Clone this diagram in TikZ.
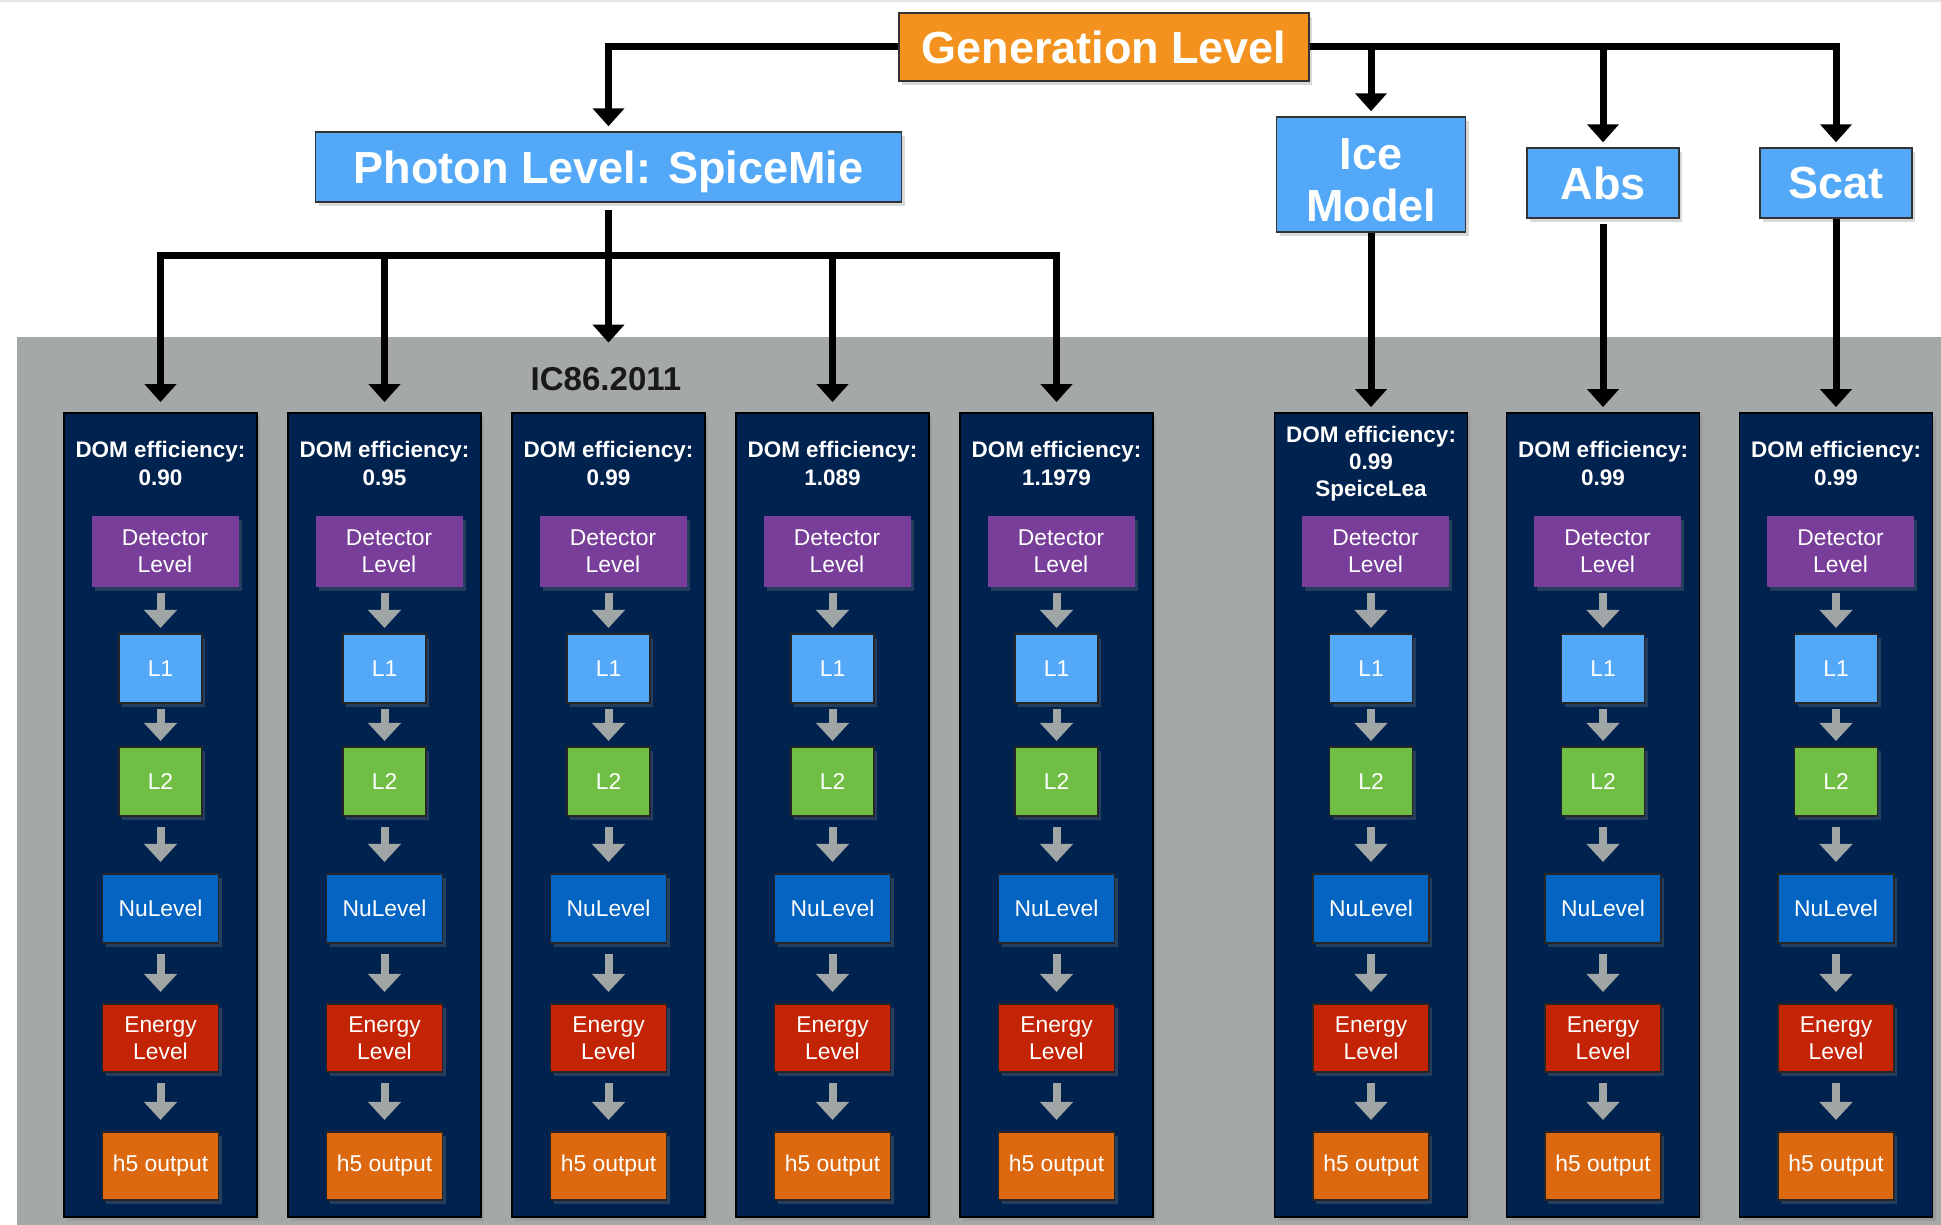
\documentclass[tikz,border=0pt]{standalone}
\usepackage{fontspec}
\setmainfont{Liberation Sans}
\usepackage{tikz}
\usetikzlibrary{arrows.meta, positioning, shadows}

\definecolor{genorange}{RGB}{243,146,30}
\definecolor{skyblue}{RGB}{84,168,248}
\definecolor{navy}{RGB}{0,34,78}
\definecolor{detpurple}{RGB}{120,62,154}
\definecolor{ltgreen}{RGB}{112,190,68}
\definecolor{nublue}{RGB}{4,100,194}
\definecolor{enred}{RGB}{196,36,6}
\definecolor{hforange}{RGB}{220,104,16}
\definecolor{panelgray}{RGB}{165,168,168}
\definecolor{flowgray}{RGB}{160,165,165}

\begin{document}
\begin{tikzpicture}[
  boxshadow/.style={drop shadow={shadow xshift=0.3mm, shadow yshift=-0.4mm, opacity=0.3}},
  topbox/.style={draw=black!80, line width=0.4pt, fill=skyblue, text=white, inner sep=0pt, align=center,
    text depth=0pt, font=\fontsize{12.8}{14.2}\selectfont\bfseries, boxshadow},
  lane/.style={draw=black, line width=0.5pt, fill=navy, minimum width=1.93cm, minimum height=8.04cm, boxshadow},
  domtext/.style={text=white, align=center, inner sep=0pt, font=\fontsize{6.4}{7.7}\selectfont\bfseries},
  levelbox/.style={draw=black!85, line width=0.4pt, text=white, minimum width=1.16cm, minimum height=0.69cm,
    inner sep=0pt, outer sep=0pt, align=center, font=\fontsize{6.5}{7.6}\selectfont, boxshadow},
  bigarrow/.style={-{Triangle[width=3.1mm,length=1.8mm]}, line width=0.7mm, shorten >=0.5mm},
  grayarrow/.style={-{Triangle[width=3.2mm,length=1.8mm]}, line width=0.8mm, draw=flowgray,
    shorten <=0.6mm, shorten >=0.6mm}
]
\useasboundingbox (0,0) rectangle (19.41,12.25);
\draw[gray!20, line width=0.3mm] (0,12.24) -- (19.41,12.24);
\fill[panelgray] (0.17,0) rectangle (19.41,8.88);

% top of the tree
\node[topbox, fill=genorange, minimum width=4.10cm, minimum height=0.68cm] (gen) at (11.04,11.78) {Generation Level};
\node[topbox, minimum width=5.86cm, minimum height=0.70cm] (photon) at (6.085,10.58) {Photon Level: SpiceMie};
\node[topbox, minimum width=1.89cm, minimum height=1.15cm, text height=0.95cm, font=\fontsize{12.8}{15}\selectfont\bfseries]
  (ice) at (13.71,10.505) {Ice\\Model};
\node[topbox, minimum width=1.52cm, minimum height=0.70cm] (abs) at (16.03,10.42) {Abs};
\node[topbox, minimum width=1.52cm, minimum height=0.70cm] (scat) at (18.36,10.42) {Scat};
\node[text=black!90, font=\fontsize{9.4}{11}\selectfont\bfseries, inner sep=1mm] (ic) at (6.06,8.46) {IC86.2011};

% one lane per DOM efficiency
\foreach \x/\eff [count=\i] in {1.605/0.90, 3.845/0.95, 6.085/0.99, 8.325/1.089, 10.565/1.1979,
    13.71/{0.99\\SpeiceLea}, 16.03/0.99, 18.36/0.99} {
  \node[lane] (col\i) at (\x,4.10) {};
  \node[domtext] (dom\i) at (\x,7.615) {DOM efficiency:\\\eff};
  \node[levelbox, fill=detpurple, draw=none, minimum width=1.47cm, minimum height=0.71cm] (det\i) at (\x+0.045,6.735) {Detector\\Level};
  \node[levelbox, fill=skyblue, minimum width=0.83cm, below=0.47cm of det\i, xshift=-0.45mm] (lone\i) {L1};
  \node[levelbox, fill=ltgreen, minimum width=0.83cm, below=0.44cm of lone\i] (ltwo\i) {L2};
  \node[levelbox, fill=nublue, below=0.58cm of ltwo\i] (nu\i) {NuLevel};
  \node[levelbox, fill=enred, minimum height=0.68cm, below=0.61cm of nu\i] (en\i) {Energy\\Level};
  \node[levelbox, fill=hforange, minimum height=0.68cm, below=0.60cm of en\i] (hfive\i) {h5 output};

  \draw[grayarrow] (det\i.south -| lone\i) -- (lone\i);
  \draw[grayarrow] (lone\i) -- (ltwo\i);
  \draw[grayarrow, shorten <=1.1mm, shorten >=1.2mm] (ltwo\i) -- (nu\i);
  \draw[grayarrow, shorten <=1.1mm, shorten >=1.2mm] (nu\i) -- (en\i);
  \draw[grayarrow, shorten <=1.1mm, shorten >=1.2mm] (en\i) -- (hfive\i);
}

% connectors
\coordinate (bus) at (6.085,9.69);
\draw[bigarrow] (gen.west) -| (photon.north);
\draw[bigarrow] (gen.east) -| (scat.north);
\draw[bigarrow] (gen.east -| ice.north) -- (ice.north);
\draw[bigarrow] (gen.east -| abs.north) -- (abs.north);
\draw[bigarrow, shorten <=0.7mm, shorten >=1.4mm] (photon.south) -- (photon.south |- ic.north);
\draw[bigarrow, shorten >=1mm] (bus) -| (col1.north);
\draw[bigarrow, shorten >=1mm] (bus) -| (col5.north);
\draw[bigarrow, shorten >=1mm] (bus -| col2.north) -- (col2.north);
\draw[bigarrow, shorten >=1mm] (bus -| col4.north) -- (col4.north);
\draw[bigarrow] (ice.south) -- (col6.north);
\draw[bigarrow, shorten <=0.5mm] (abs.south) -- (col7.north);
\draw[bigarrow] (scat.south) -- (col8.north);
\end{tikzpicture}
\end{document}
